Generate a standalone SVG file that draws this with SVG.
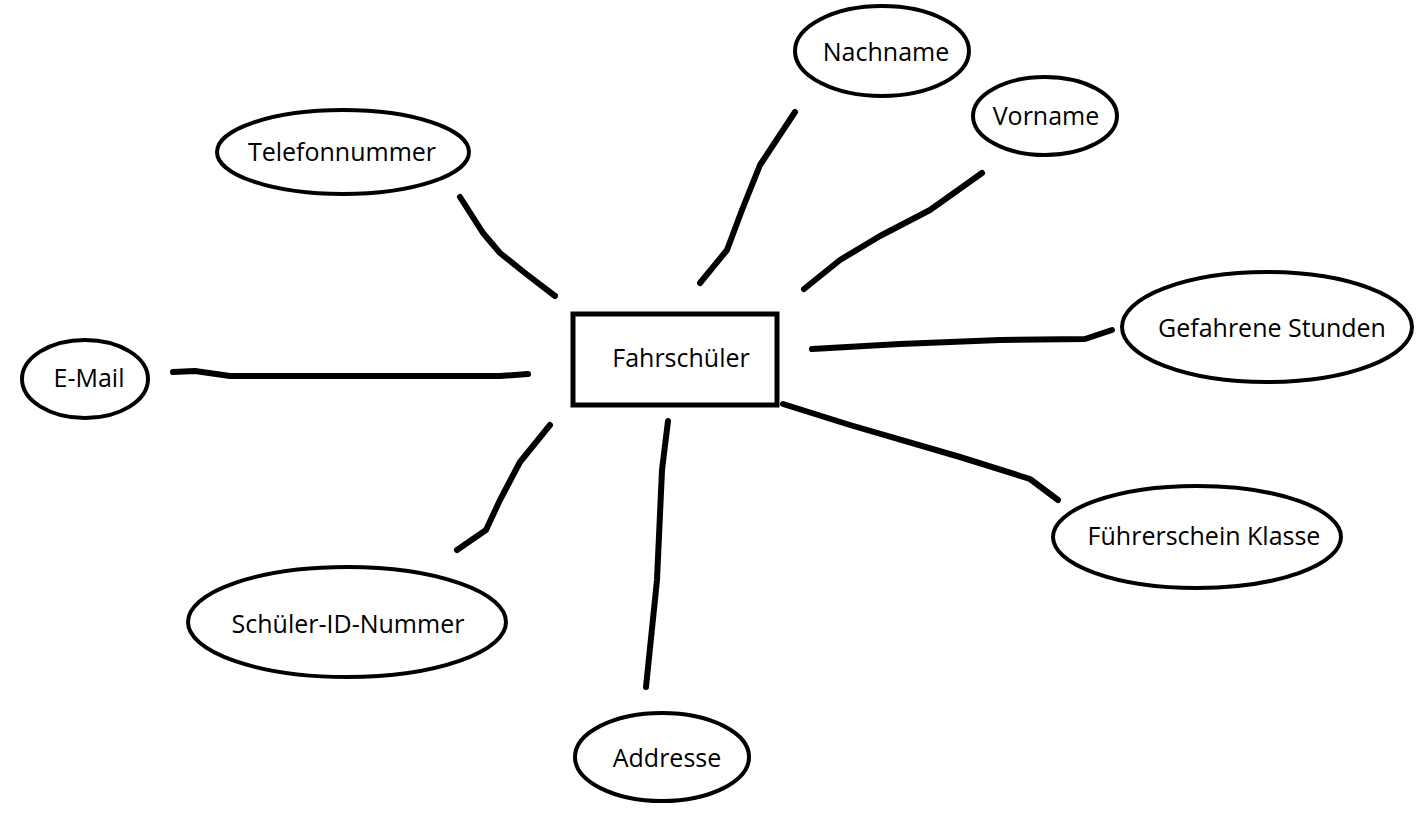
<svg xmlns="http://www.w3.org/2000/svg" width="1424" height="813" viewBox="0 0 1424 813">
<style>
.attr{fill:#fff;stroke:#000;stroke-width:4}
.ent{fill:#fff;stroke:#000;stroke-width:5}
.lbl{font-family:"Open Sans","Noto Sans","Liberation Sans",sans-serif;font-size:25px;fill:#000;text-anchor:middle;dominant-baseline:central}
.conn path{fill:none;stroke:#000;stroke-width:6;stroke-linecap:round;stroke-linejoin:round}
</style>
<rect width="1424" height="813" fill="#fff"/>
<g class="conn">
<path d="M460,197 L483,233 L500,253 L525,273 L555,296"/>
<path d="M795,112 L760,165 L742,210 L727,250 L700,283"/>
<path d="M982,173 L930,210 L880,236 L840,260 L804,289"/>
<path d="M812,349 L900,344 L1000,340 L1085,339 L1112,330"/>
<path d="M783,404 L850,425 L960,457 L1030,479 L1058,500"/>
<path d="M668,421 L662,470 L657,580 L646,687"/>
<path d="M550,425 L520,462 L500,500 L486,530 L457,550"/>
<path d="M173,372 L195,371 L230,376 L500,376 L528,374"/>
</g>
<g id="fahrschueler"><rect class="ent" x="573" y="314" width="204" height="91"/><text class="lbl" x="681" y="357">Fahrschüler</text></g>
<g id="nachname"><ellipse class="attr" cx="882" cy="51" rx="87" ry="45"/><text class="lbl" x="886" y="51">Nachname</text></g>
<g id="vorname"><ellipse class="attr" cx="1045" cy="116" rx="72" ry="39"/><text class="lbl" x="1046" y="115">Vorname</text></g>
<g id="telefonnummer"><ellipse class="attr" cx="343" cy="152" rx="126" ry="42"/><text class="lbl" x="342" y="151">Telefonnummer</text></g>
<g id="email"><ellipse class="attr" cx="85" cy="379" rx="63" ry="39"/><text class="lbl" x="89" y="377">E-Mail</text></g>
<g id="gefahrene"><ellipse class="attr" cx="1267" cy="327" rx="145" ry="55"/><text class="lbl" x="1272" y="327">Gefahrene Stunden</text></g>
<g id="fuehrerschein"><ellipse class="attr" cx="1197" cy="537" rx="144" ry="51"/><text class="lbl" x="1204" y="535">Führerschein Klasse</text></g>
<g id="schuelerid"><ellipse class="attr" cx="347" cy="622" rx="159" ry="55"/><text class="lbl" x="348" y="623">Schüler-ID-Nummer</text></g>
<g id="addresse"><ellipse class="attr" cx="662" cy="757" rx="87" ry="44"/><text class="lbl" x="667" y="757">Addresse</text></g>
</svg>
